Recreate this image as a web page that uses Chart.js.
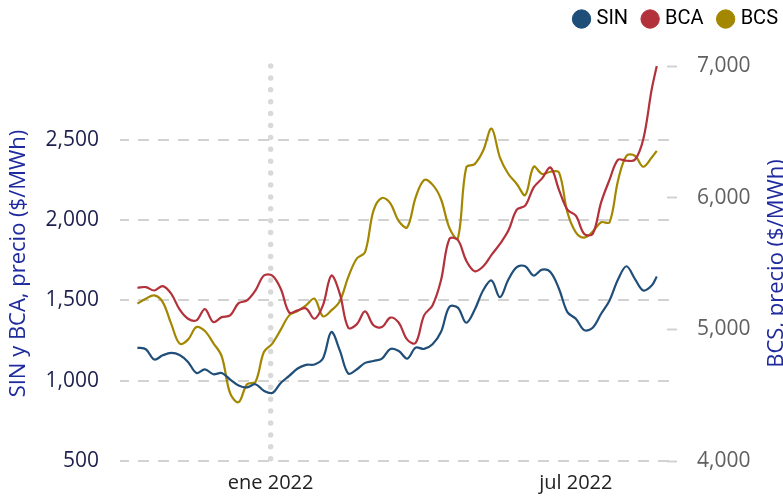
<!DOCTYPE html>
<html lang="es">
<head>
<meta charset="utf-8">
<title>Precios SIN, BCA y BCS</title>
<script src="https://cdn.jsdelivr.net/npm/chart.js@4.4.1/dist/chart.umd.min.js"></script>
<style>
    html, body { margin: 0; padding: 0; background: #ffffff; }
    #wrap { width: 783px; height: 500px; }
</style>
</head>
<body>
<div id="wrap"><canvas id="priceChart" width="783" height="500"></canvas></div>
<script>
// Fechas de muestreo (promedio móvil diario, cada 5 días)
const dates = [
    '2021-10-14', '2021-10-19', '2021-10-24', '2021-10-29', '2021-11-03', '2021-11-08', '2021-11-13',
    '2021-11-18', '2021-11-23', '2021-11-28', '2021-12-03', '2021-12-08', '2021-12-13', '2021-12-18',
    '2021-12-23', '2021-12-28', '2022-01-02', '2022-01-07', '2022-01-12', '2022-01-17', '2022-01-22',
    '2022-01-27', '2022-02-01', '2022-02-06', '2022-02-11', '2022-02-16', '2022-02-21', '2022-02-26',
    '2022-03-03', '2022-03-08', '2022-03-13', '2022-03-18', '2022-03-23', '2022-03-28', '2022-04-02',
    '2022-04-07', '2022-04-12', '2022-04-17', '2022-04-22', '2022-04-27', '2022-05-02', '2022-05-07',
    '2022-05-12', '2022-05-17', '2022-05-22', '2022-05-27', '2022-06-01', '2022-06-06', '2022-06-11',
    '2022-06-16', '2022-06-21', '2022-06-26', '2022-07-01', '2022-07-06', '2022-07-11', '2022-07-16',
    '2022-07-21', '2022-07-26', '2022-07-31', '2022-08-05', '2022-08-10', '2022-08-15', '2022-08-18'
];

// Precios ($/MWh)
const sin = [
    1206, 1196, 1132, 1158, 1173, 1160, 1117, 1048, 1071, 1040, 1048, 1007, 970, 958,
    978, 937, 924, 986, 1030, 1076, 1099, 1101, 1138, 1303, 1189, 1045, 1070, 1111,
    1123, 1138, 1198, 1185, 1138, 1206, 1198, 1227, 1303, 1460, 1455, 1361, 1442, 1562,
    1624, 1520, 1630, 1707, 1713, 1655, 1692, 1676, 1573, 1427, 1386, 1315, 1330, 1417,
    1500, 1630, 1713, 1635, 1562, 1593, 1649
];
const bca = [
    1579, 1583, 1562, 1589, 1542, 1444, 1386, 1376, 1446, 1365, 1396, 1407, 1483, 1500,
    1562, 1655, 1655, 1573, 1425, 1438, 1450, 1386, 1469, 1655, 1542, 1330, 1351, 1432,
    1345, 1334, 1393, 1361, 1256, 1235, 1407, 1469, 1624, 1883, 1877, 1748, 1682, 1711,
    1784, 1852, 1935, 2065, 2090, 2204, 2260, 2328, 2189, 2065, 2028, 1914, 1914, 2111,
    2252, 2376, 2370, 2376, 2504, 2815, 2960
];
const bcs = [
    5195, 5233, 5258, 5207, 5043, 4892, 4922, 5017, 4987, 4896, 4795, 4513, 4447, 4583,
    4601, 4828, 4892, 4998, 5106, 5139, 5182, 5233, 5099, 5144, 5214, 5396, 5536, 5586,
    5902, 5998, 5957, 5821, 5775, 6002, 6134, 6099, 5990, 5771, 5690, 6230, 6255, 6356,
    6525, 6305, 6180, 6104, 6020, 6235, 6180, 6197, 6192, 5889, 5737, 5697, 5742, 5813,
    5813, 6129, 6318, 6318, 6235, 6305, 6356
];

// Ejes
const xTickDates = ['2022-01-01', '2022-07-01'];
const xTickLabels = ['ene 2022', 'jul 2022'];
const xRange = ['2021-10-09', '2022-08-30'];
const markerDate = '2022-01-01';
const leftTicks = [500, 1000, 1500, 2000, 2500];
const rightTicks = [4000, 5000, 6000, 7000];
const leftRange = [500, 2960];
const rightRange = [4000, 7000];

const leftTitle = 'SIN y BCA, precio ($/MWh)';
const rightTitle = 'BCS, precio ($/MWh)';

// Colores
const COLOR_SIN = '#1f4e79';
const COLOR_BCA = '#b3313a';
const COLOR_BCS = '#a38700';
const GRID = '#d2d2d2';
const TITLE_BLUE = '#1f2a9e';

// Días desde el 1 de enero de 2022
function toDay(iso) {
    const [y, m, d] = iso.split('-').map(Number);
    return (Date.UTC(y, m - 1, d) - Date.UTC(2022, 0, 1)) / 86400000;
}

const days = dates.map(toDay);
const toPoints = values => values.map((v, i) => ({ x: days[i], y: v }));

Chart.defaults.font.family = '"Open Sans", "DejaVu Sans", sans-serif';

/**
 * Titulo del eje derecho, leido de abajo hacia arriba
 */
const rightTitlePlugin = {
    id: 'rightTitle',
    afterDraw(chart) {
        const { ctx, chartArea } = chart;
        ctx.save();
        ctx.translate(chart.width - 6, (chartArea.top + chartArea.bottom) / 2);
        ctx.rotate(-Math.PI / 2);
        ctx.font = '22px "Open Sans"';
        ctx.fillStyle = TITLE_BLUE;
        ctx.textAlign = 'center';
        ctx.textBaseline = 'middle';
        ctx.fillText(rightTitle, 0, 0);
        ctx.restore();
    }
};

const ctx = document.getElementById('priceChart').getContext('2d');

new Chart(ctx, {
    type: 'line',
    data: {
        datasets: [
            {
                label: 'SIN',
                data: toPoints(sin),
                borderColor: COLOR_SIN,
                backgroundColor: COLOR_SIN,
                yAxisID: 'y',
                order: 1
            },
            {
                label: 'BCA',
                data: toPoints(bca),
                borderColor: COLOR_BCA,
                backgroundColor: COLOR_BCA,
                yAxisID: 'y',
                order: 1
            },
            {
                label: 'BCS',
                data: toPoints(bcs),
                borderColor: COLOR_BCS,
                backgroundColor: COLOR_BCS,
                yAxisID: 'y2',
                order: 1
            },
            {
                // linea punteada de inicio de año
                label: '',
                data: [{ x: toDay(markerDate), y: 1 }, { x: toDay(markerDate), y: 0 }],
                borderColor: '#d9d9d9',
                borderWidth: 5.5,
                borderDash: [0, 11.9],
                borderCapStyle: 'round',
                tension: 0,
                yAxisID: 'yMark',
                order: 5,
                clip: false
            }
        ]
    },
    options: {
        responsive: false,
        animation: false,
        events: [],
        layout: { padding: { top: -8, left: 0, right: -12, bottom: 0 } },
        elements: {
            line: { borderWidth: 2.2, tension: 0.35 },
            point: { radius: 0 }
        },
        plugins: {
            tooltip: { enabled: false },
            legend: {
                position: 'top',
                align: 'end',
                labels: {
                    usePointStyle: true,
                    pointStyle: 'circle',
                    boxWidth: 10,
                    boxHeight: 13,
                    padding: 17,
                    color: '#000000',
                    font: { family: 'Roboto', size: 20 },
                    filter: item => item.text !== ''
                }
            }
        },
        scales: {
            x: {
                type: 'linear',
                position: 'bottom',
                min: toDay(xRange[0]),
                max: toDay(xRange[1]),
                afterBuildTicks: scale => {
                    scale.ticks = xTickDates.map(d => ({ value: toDay(d) }));
                },
                afterFit: scale => { scale.height = 39; },
                grid: { display: false, drawTicks: false },
                border: { display: false },
                ticks: {
                    padding: 10,
                    maxRotation: 0,
                    autoSkip: false,
                    color: '#222222',
                    font: { size: 20 },
                    callback: value => xTickLabels[xTickDates.map(toDay).indexOf(value)]
                }
            },
            xTop: {
                type: 'linear',
                position: 'top',
                min: 0,
                max: 1,
                afterFit: scale => { scale.height = 27; },
                grid: { display: false, drawTicks: false },
                border: { display: false },
                ticks: { display: false }
            },
            y: {
                type: 'linear',
                position: 'left',
                min: leftRange[0],
                max: leftRange[1],
                afterBuildTicks: scale => {
                    scale.ticks = leftTicks.map(v => ({ value: v }));
                },
                afterFit: scale => { scale.width = 129; },
                grid: {
                    color: GRID,
                    lineWidth: 2,
                    tickLength: 9,
                    tickColor: GRID,
                    tickWidth: 2,
                    tickBorderDash: []
                },
                border: { display: false, dash: [11, 9], dashOffset: 11 },
                ticks: {
                    padding: 21,
                    color: '#1c1f4d',
                    font: { size: 21, lineHeight: 0.8 },
                    callback: value => value.toLocaleString('en-US')
                },
                title: {
                    display: true,
                    text: leftTitle,
                    color: TITLE_BLUE,
                    font: { size: 22 },
                    padding: { top: 6, bottom: 0 }
                }
            },
            y2: {
                type: 'linear',
                position: 'right',
                min: rightRange[0],
                max: rightRange[1],
                afterBuildTicks: scale => {
                    scale.ticks = rightTicks.map(v => ({ value: v }));
                },
                afterFit: scale => { scale.width = 118; },
                grid: {
                    drawOnChartArea: false,
                    tickLength: -10,
                    tickColor: GRID,
                    tickWidth: 2,
                    tickBorderDash: []
                },
                border: { display: false },
                ticks: {
                    padding: 30,
                    color: '#606060',
                    font: { size: 21, lineHeight: 0.8 },
                    callback: value => value.toLocaleString('en-US')
                }
            },
            yMark: {
                type: 'linear',
                display: false,
                min: 0,
                max: 1
            }
        }
    },
    plugins: [rightTitlePlugin]
});
</script>
</body>
</html>
